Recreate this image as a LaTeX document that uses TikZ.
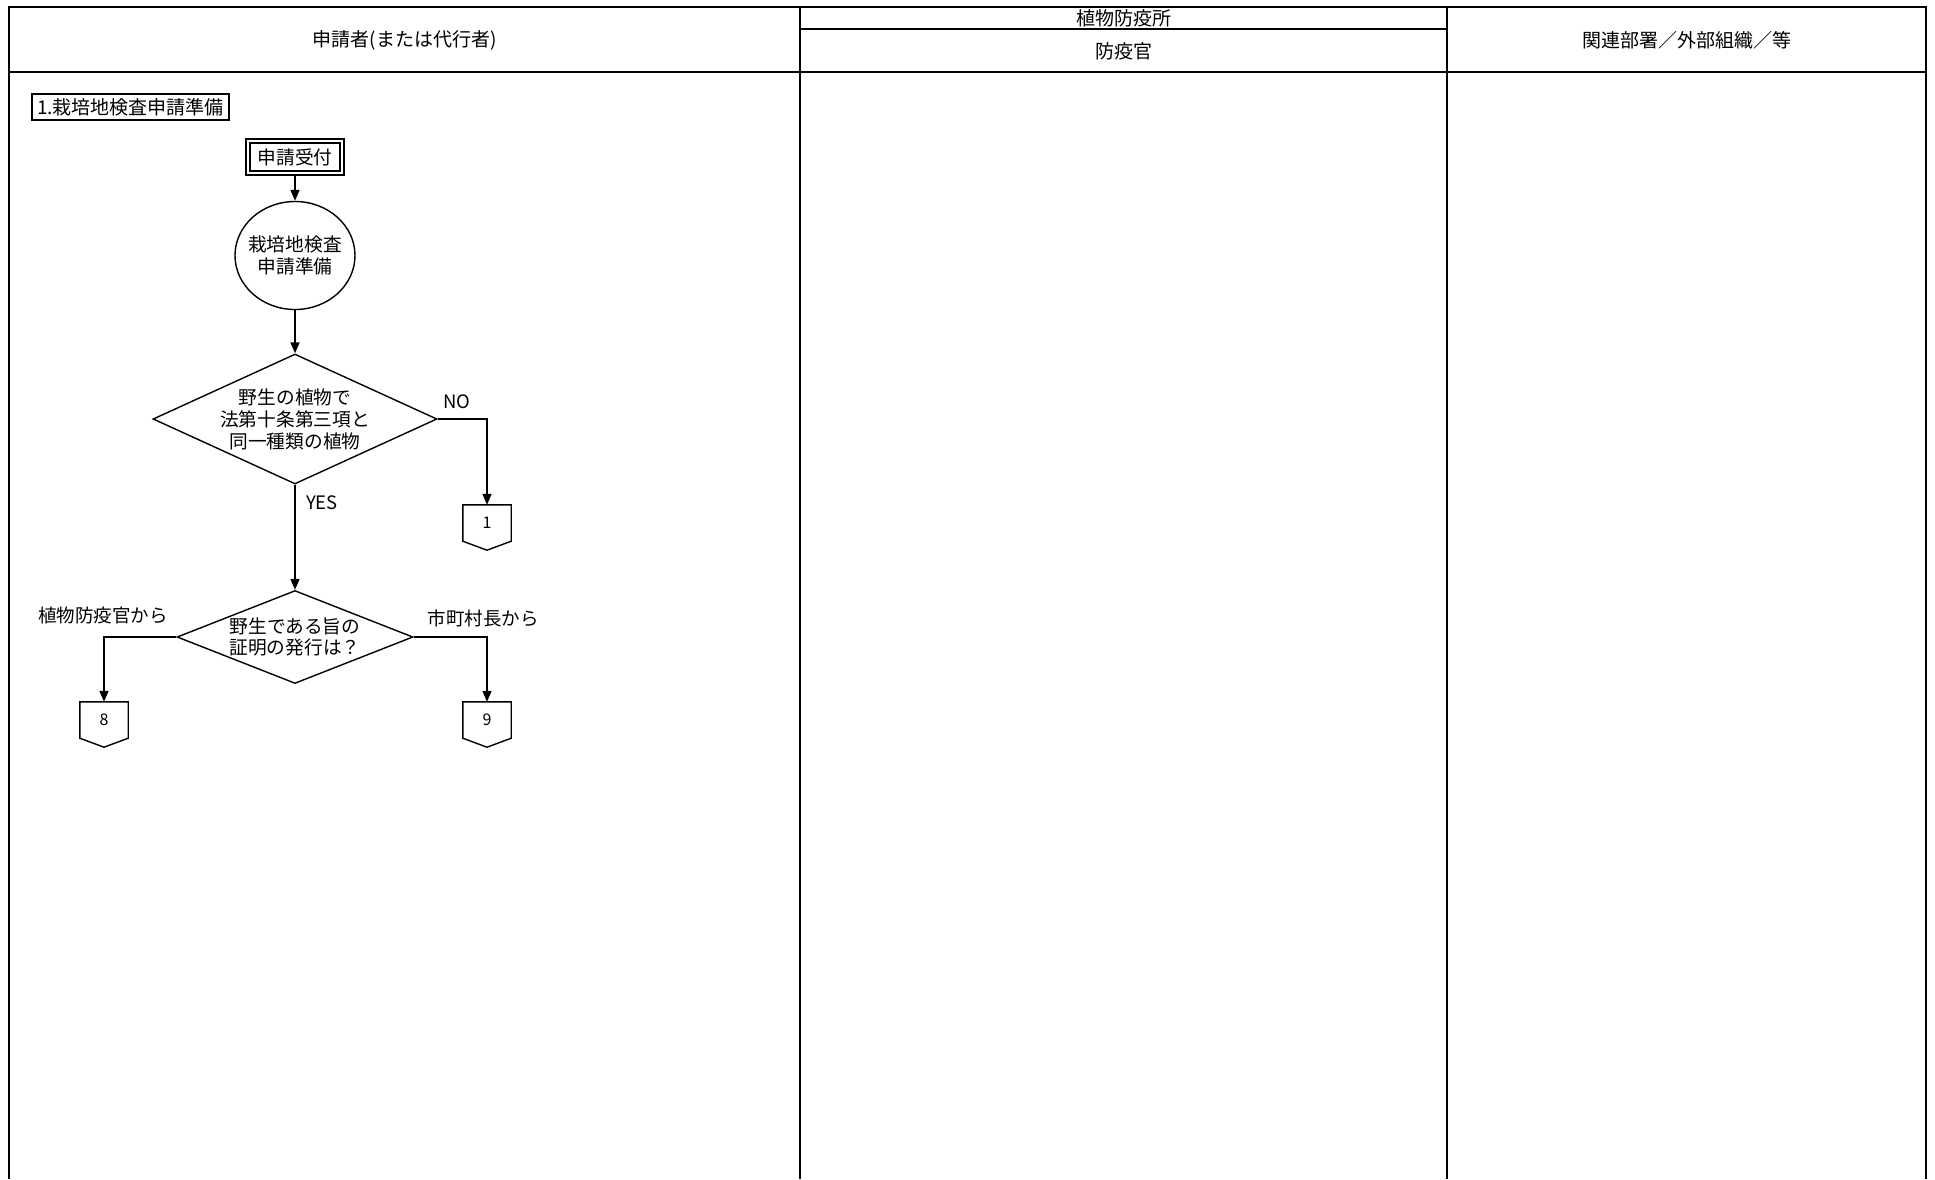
\documentclass[tikz,border=0pt]{standalone}
\usepackage{fontspec}
\setmainfont{Noto Sans CJK JP}
\usetikzlibrary{arrows.meta,shapes.geometric}
\tikzset{
  frame/.style={line width=2pt},
  flow/.style={line width=1.4pt},
  arr/.style={flow,-{Triangle[length=11pt,width=9pt]}},
  txt/.style={font=\fontsize{18.7}{22}\selectfont, align=center, inner sep=0pt},
  hdr/.style={font=\fontsize{19}{22}\selectfont, inner sep=0pt},
  lbl/.style={font=\fontsize{18.5}{20}\selectfont, inner sep=0pt},
  offpage/.style={minimum width=48pt, minimum height=36pt, inner sep=0pt, font=\fontsize{16}{18}\selectfont},
  decision/.style={diamond, draw, flow, inner sep=0pt},
}
\begin{document}
\begin{tikzpicture}[x=1pt,y=-1pt]
\useasboundingbox (0,0) rectangle (1935,1179);
% frame
\draw[frame] (9,1179) -- (9,7) -- (1926,7) -- (1926,1179);
\draw[frame] (9,72) -- (1926,72);
\draw[frame] (800,7) -- (800,1179);
\draw[frame] (1447,7) -- (1447,1179);
\draw[frame] (800,29) -- (1447,29);
% headers
\node[hdr] (h1) at (404.5,40) {申請者(または代行者)};
\node[hdr] (h2) at (1123.5,18) {植物防疫所};
\node[hdr] (h3) at (1123.5,51) {防疫官};
\node[hdr] (h4) at (1686.5,40) {関連部署／外部組織／等};
% title
\node[draw, flow, txt, font=\fontsize{19}{22}\selectfont, minimum width=197pt, minimum height=26pt] (title) at (130.5,107) {1.栽培地検査申請準備};
% start box
\node[draw, flow, double, double distance=2.4pt, txt, minimum width=94pt, minimum height=32pt] (start) at (295,157) {申請受付};
% process ellipse
\node[ellipse, draw, flow, minimum width=120pt, minimum height=108pt, inner sep=0pt] (prep) at (295,255.5) {};
\node[txt] (prept) at (prep.center) {栽培地検査\\申請準備};
% decision 1
\node[decision, minimum width=284pt, minimum height=130pt] (d1) at (295,419) {};
\node[txt] (d1t) at (d1.center) {野生の植物で\\法第十条第三項と\\同一種類の植物};
% decision 2
\node[decision, minimum width=236pt, minimum height=93pt] (d2) at (295,637) {};
\node[txt, font=\fontsize{18.7}{21}\selectfont] (d2t) at (d2.center) {野生である旨の\\証明の発行は？};
% off-page connectors
\node[offpage] (c1) at (487,523) {1};
\node[offpage] (c8) at (104,720) {8};
\node[offpage] (c9) at (487,720) {9};
\foreach \c in {c1,c8,c9}{
  \draw[flow] (\c.south west) -- (\c.north west) -- (\c.north east) -- (\c.south east) -- ([yshift=-9pt]\c.south) -- cycle;
}
% connectors
\draw[arr] (start.south) -- (prep.north);
\draw[arr] (prep.south) -- (d1.north);
\draw[arr] (d1.south) -- (d2.north);
\draw[arr] (d1.east) -| (c1.north);
\draw[arr] (d2.west) -| (c8.north);
\draw[arr] (d2.east) -| (c9.north);
% labels
\node[lbl] (no) at (457,402) {NO};
\node[lbl] (yes) at (322,503) {YES};
\node[lbl] (lfrom) at (103,615) {植物防疫官から};
\node[lbl] (rfrom) at (483,618) {市町村長から};
\end{tikzpicture}
\end{document}
